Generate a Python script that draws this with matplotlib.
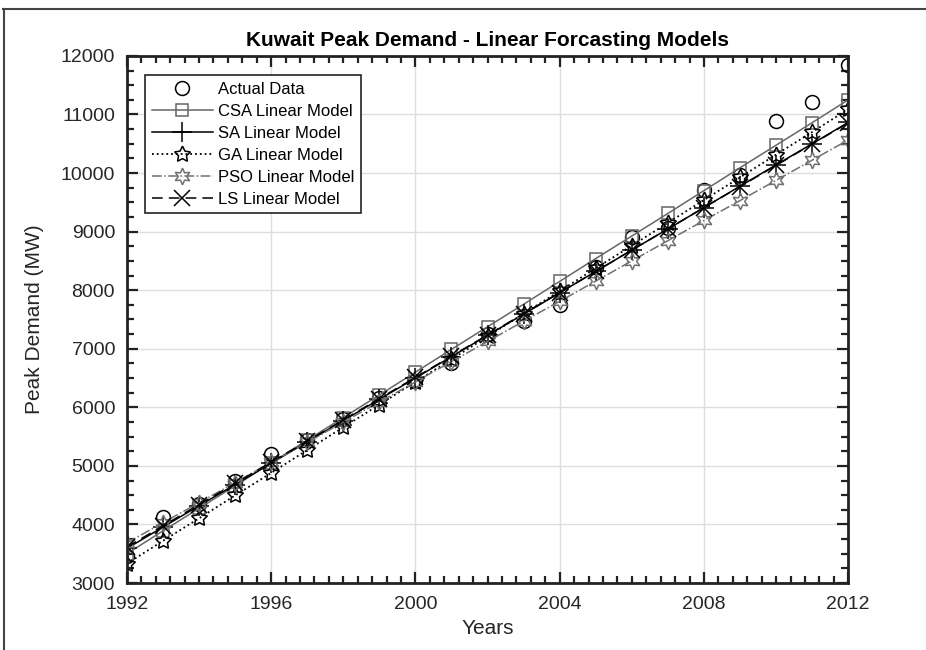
import numpy as np
import matplotlib
matplotlib.use("Agg")
import matplotlib.pyplot as plt
from matplotlib.lines import Line2D
from matplotlib.ticker import MultipleLocator

plt.rcParams["font.family"] = ["Liberation Sans", "DejaVu Sans"]

# --- data (MW per year) ---
years = list(range(1992, 2013))
actual = [3470, 4120, 4350, 4740, 5200, 5440, 5800, 6160, 6450, 6750, 7250,
          7480, 7750, 8400, 8900, 9070, 9710, 9960, 10890, 11220, 11850]
csa = [3500, 3890, 4275, 4660, 5050, 5440, 5825, 6210, 6600, 6990, 7375,
       7760, 8150, 8540, 8925, 9310, 9700, 10090, 10475, 10860, 11250]
sa = [3590, 3955, 4320, 4680, 5045, 5410, 5775, 6135, 6500, 6865, 7230,
      7590, 7955, 8320, 8685, 9045, 9410, 9775, 10140, 10500, 10865]
ga = [3330, 3720, 4105, 4495, 4880, 5270, 5660, 6045, 6435, 6820, 7210,
      7600, 7985, 8375, 8760, 9150, 9540, 9925, 10315, 10700, 11090]
pso = [3685, 4030, 4370, 4715, 5060, 5400, 5750, 6090, 6435, 6780, 7125,
       7470, 7810, 8155, 8500, 8845, 9190, 9530, 9875, 10220, 10565]
ls = [3615, 3975, 4340, 4700, 5065, 5425, 5785, 6150, 6510, 6875, 7235,
      7600, 7960, 8320, 8685, 9045, 9410, 9770, 10130, 10495, 10855]

fig = plt.figure(figsize=(9.26, 6.5), dpi=100)
ax = fig.add_axes([0.137, 0.103, 0.779, 0.811])

ax.plot(years, actual, "o", color="black", mfc="none", ms=10, mew=1.1,
        label="Actual Data")
ax.plot(years, csa, "-s", color="#666666", mfc="none", ms=9, lw=1.1, mew=1.1,
        label="CSA Linear Model")
ax.plot(years, sa, "-+", color="black", ms=14, lw=1.1, mew=1.1,
        label="SA Linear Model")
ax.plot(years, ga, ":", marker=(5, 1, 0), color="black", mfc="none", ms=12,
        lw=1.3, mew=1.1, label="GA Linear Model")
ax.plot(years, pso, "-.", marker=(6, 1, 0), color="#707070", mfc="none", ms=12,
        lw=1.1, mew=1.1, label="PSO Linear Model")
ax.plot(years, ls, "--", marker="x", color="black", ms=11, lw=1.1, mew=1.1,
        dashes=(7, 4), label="LS Linear Model")

ax.set_xlim(1992, 2012)
ax.set_ylim(3000, 12000)
ax.xaxis.set_major_locator(MultipleLocator(4))
ax.xaxis.set_minor_locator(MultipleLocator(0.4))
ax.yaxis.set_major_locator(MultipleLocator(1000))
ax.yaxis.set_minor_locator(MultipleLocator(250))
ax.tick_params(which="both", direction="in", top=True, right=True,
               labelsize=14, width=1.6, color="#222222", labelcolor="#262626")
ax.tick_params(which="major", length=8)
ax.tick_params(which="minor", length=5)
ax.tick_params(axis="x", pad=9)
ax.tick_params(axis="y", pad=8.5)
for s in ax.spines.values():
    s.set_linewidth(2)
    s.set_color("#222222")
ax.grid(True, which="major", color="#dddddd", lw=1)
ax.set_axisbelow(True)

ax.set_title("Kuwait Peak Demand - Linear Forcasting Models", fontsize=15,
             fontweight="bold", pad=7)
ax.set_xlabel("Years", fontsize=15, labelpad=5, color="#262626")
ax.set_ylabel("Peak Demand (MW)", fontsize=15, labelpad=12, color="#262626")

leg = ax.legend(loc="upper left", fontsize=12, frameon=True, fancybox=False,
                edgecolor="#222222", framealpha=1, handlelength=3.7,
                bbox_to_anchor=(0.025, 0.964), borderaxespad=0,
                labelspacing=0.42, handletextpad=0.3, borderpad=0.4)
leg.get_frame().set_linewidth(1.2)

# outer frame (top and left edges visible in the reference)
fig.add_artist(Line2D([0.003, 0.999], [0.986, 0.986], color="#444444", lw=1.5))
fig.add_artist(Line2D([0.004, 0.004], [0.0, 0.986], color="#444444", lw=1.5))

fig.savefig("out.png", dpi=100)
